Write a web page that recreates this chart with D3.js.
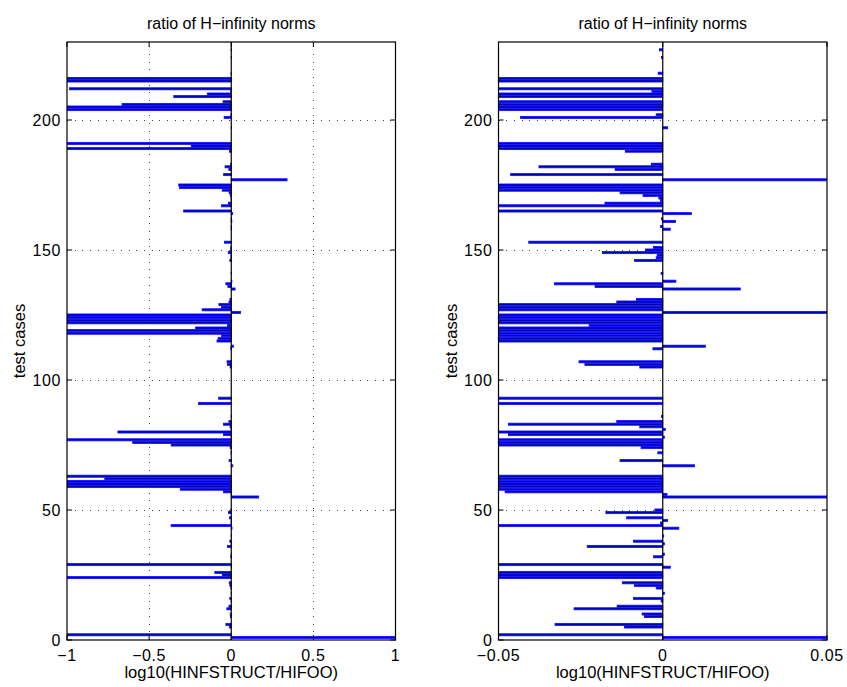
<!DOCTYPE html>
<html><head><meta charset="utf-8">
<script src="https://cdn.jsdelivr.net/npm/d3@7"></script>
<style>
html,body{margin:0;padding:0;background:#fff;}
svg{display:block;font-family:"Liberation Sans",Arial,Helvetica,sans-serif;}
</style></head>
<body>
<svg id="chart" width="847" height="687"></svg>
<script>
// log10(HINFSTRUCT/HIFOO) for test cases 1..227
const ratioLog10 = [
 1.2, -1.2, 0, 0, -0.0117, -0.0328, 0, 0, -0.0056, -0.0063,          // 1-10
 0, -0.027, -0.0139, 0, -0.0005, -0.0089, 0, 0.0005, 0, -0.002,       // 11-20
 -0.0086, -0.0123, 0, -1.2, -0.055, -0.1, 0, 0.0023, -1.2, 0,         // 21-30
 0, -0.0028, 0.0005, 0, 0, -0.023, 0.0005, -0.0089, 0, 0.0003,        // 31-40
 0, 0, 0.0049, -0.366, -0.0007, 0.0015, -0.011, 0, -0.0173, -0.0024,  // 41-50
 0, 0, 0, 0, 0.167, 0.0013, -0.048, -0.31, -1.2, -1.2,                // 51-60
 -1.2, -0.77, -1.2, 0, 0, 0, 0.0097, 0, -0.013, 0,                    // 61-70
 0, -0.0015, 0, -0.0066, -0.366, -0.6, -1.2, 0.0005, -0.047, -0.69,   // 71-80
 0.0008, -0.007, -0.047, -0.014, 0, -0.0004, 0, 0, 0, 0,              // 81-90
 -0.2, 0, -0.077, 0, 0, 0, 0, 0, 0, 0,                                // 91-100
 0, 0, 0, 0, -0.007, -0.0237, -0.0255, 0, 0, 0,                       // 101-110
 0, -0.003, 0.013, 0, -0.087, -0.08, -0.06, -1.2, -1.2, -0.217,       // 111-120
 -0.0224, -1.2, -1.2, -1.2, -1.2, 0.057, -0.177, -0.06, -0.075, -0.014, // 121-130
 -0.008, 0, 0, 0, 0.0236, -0.0206, -0.033, 0.004, 0, 0,               // 131-140
 -0.0005, 0, 0, 0, 0, -0.0086, -0.002, -0.0017, -0.0184, -0.0053,     // 141-150
 -0.0028, 0, -0.0408, 0, 0, 0, 0, 0.0023, -0.0007, 0,                 // 151-160
 0.0039, -0.0004, 0, 0.0087, -0.29, 0, -0.06, -0.0176, -0.0007, -0.0012, // 161-170
 -0.006, -0.013, -0.055, -0.315, -0.32, 0, 0.34, 0, -0.0463, 0,       // 171-180
 -0.0145, -0.0377, -0.0035, 0, 0, 0, 0, -0.0114, -1.2, -0.244,        // 181-190
 -1.2, 0, 0, 0, 0, 0, 0.0015, 0, 0, 0,                                // 191-200
 -0.0433, -0.002, 0, -1.2, -1.2, -0.665, -0.05, 0, -0.35, -0.146,     // 201-210
 -0.0033, -0.985, 0, 0, -1.2, -1.2, 0, -0.0014, 0, 0,                 // 211-220
 0, 0, 0, -0.0004, 0, 0, -0.001                                       // 221-227
];
const testCases = ratioLog10.map((v, i) => i + 1);

const yTicks = [0, 50, 100, 150, 200];
const leftXTicks = [-1, -0.5, 0, 0.5, 1];
const leftXTickLabels = ["\u22121", "\u22120.5", "0", "0.5", "1"];
const rightXTicks = [-0.05, 0, 0.05];
const rightXTickLabels = ["\u22120.05", "0", "0.05"];
const titleText = "ratio of H\u2212infinity norms";
const xLabelText = "log10(HINFSTRUCT/HIFOO)";
const yLabelText = "test cases";

const svg = d3.select("#chart");
const plotTop = 42, plotBottom = 640;
const yScale = d3.scaleLinear().domain([0, 230]).range([plotBottom, plotTop]);
const barH = (yScale(0) - yScale(1)) * 0.8;

function panel(id, x0, x1, domain, ticks, tickLabels, gridX) {
  const xScale = d3.scaleLinear().domain(domain).range([x0, x1]);
  const g = svg.append("g");
  const clipId = "clip" + id;
  svg.append("clipPath").attr("id", clipId).append("rect")
    .attr("x", x0).attr("y", plotTop).attr("width", x1 - x0).attr("height", plotBottom - plotTop);

  // grid
  const grid = g.append("g").attr("stroke", "#444").attr("stroke-width", 1)
    .attr("stroke-dasharray", "1,6.7").attr("shape-rendering", "crispEdges");
  yTicks.filter(t => t > 0).forEach(t => {
    grid.append("line").attr("x1", x0).attr("x2", x1)
      .attr("y1", Math.round(yScale(t)) + 0.5).attr("y2", Math.round(yScale(t)) + 0.5);
  });
  gridX.forEach(t => {
    grid.append("line").attr("y1", plotBottom).attr("y2", plotTop)
      .attr("x1", Math.round(xScale(t)) + 0.5).attr("x2", Math.round(xScale(t)) + 0.5);
  });

  // bars
  g.append("g").attr("clip-path", `url(#${clipId})`)
    .selectAll("rect").data(testCases.filter((c, i) => ratioLog10[i] !== 0))
    .join("rect")
    .attr("x", c => Math.min(xScale(0), xScale(ratioLog10[c - 1])))
    .attr("width", c => Math.abs(xScale(ratioLog10[c - 1]) - xScale(0)))
    .attr("y", c => yScale(c) - barH / 2)
    .attr("height", barH)
    .attr("fill", "#0000b8")
    .attr("stroke", "#1010ff")
    .attr("stroke-width", 0.8);

  // baseline at 0
  g.append("line").attr("x1", xScale(0)).attr("x2", xScale(0))
    .attr("y1", plotTop).attr("y2", plotBottom).attr("stroke", "#000").attr("stroke-width", 1.2);

  // box
  g.append("rect").attr("x", x0).attr("y", plotTop).attr("width", x1 - x0).attr("height", plotBottom - plotTop)
    .attr("fill", "none").attr("stroke", "#000").attr("stroke-width", 1.2);

  // ticks (inward, all sides)
  const tl = 5;
  const tk = g.append("g").attr("stroke", "#000").attr("stroke-width", 1);
  ticks.forEach(t => {
    const x = xScale(t);
    tk.append("line").attr("x1", x).attr("x2", x).attr("y1", plotBottom).attr("y2", plotBottom - tl);
    tk.append("line").attr("x1", x).attr("x2", x).attr("y1", plotTop).attr("y2", plotTop + tl);
  });
  yTicks.forEach(t => {
    const y = yScale(t);
    tk.append("line").attr("x1", x0).attr("x2", x0 + tl).attr("y1", y).attr("y2", y);
    tk.append("line").attr("x1", x1).attr("x2", x1 - tl).attr("y1", y).attr("y2", y);
  });

  // tick labels
  g.append("g").selectAll("text").data(ticks).join("text")
    .attr("x", t => xScale(t)).attr("y", 661)
    .attr("text-anchor", "middle").attr("font-size", 16).attr("letter-spacing", 0.6)
    .text((t, i) => tickLabels[i]);
  g.append("g").selectAll("text").data(yTicks).join("text")
    .attr("x", x0 - 6).attr("y", t => yScale(t) + 5.5)
    .attr("text-anchor", "end").attr("font-size", 16).attr("letter-spacing", 0.6)
    .text(t => t);

  // title, labels
  g.append("text").attr("x", (x0 + x1) / 2).attr("y", 29).attr("text-anchor", "middle")
    .attr("font-size", 16).text(titleText);
  g.append("text").attr("x", (x0 + x1) / 2).attr("y", 678).attr("text-anchor", "middle")
    .attr("font-size", 16.5).text(xLabelText);
  g.append("text").attr("transform", `translate(${x0 - 42},${(plotTop + plotBottom) / 2}) rotate(-90)`)
    .attr("text-anchor", "middle").attr("font-size", 16.5).text(yLabelText);
}

panel("L", 67, 395.5, [-1, 1], leftXTicks, leftXTickLabels, [-0.5, 0.5]);
panel("R", 498.5, 827, [-0.05, 0.05], rightXTicks, rightXTickLabels, []);
</script>
</body></html>
